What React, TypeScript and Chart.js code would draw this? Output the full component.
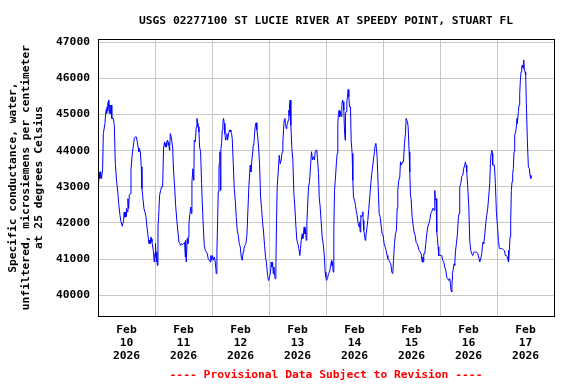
import React, { useEffect, useRef } from 'react';
import { Chart, registerables } from 'chart.js';

Chart.register(...registerables);

const TITLE = 'USGS 02277100 ST LUCIE RIVER AT SPEEDY POINT, STUART FL';
const Y_TITLE = [
  'Specific conductance, water,',
  'unfiltered, microsiemens per centimeter',
  'at 25 degrees Celsius',
];
const X_NOTE = '---- Provisional Data Subject to Revision ----';
const MONTH = 'Feb';
const YEAR = '2026';
const DAYS = ['10', '11', '12', '13', '14', '15', '16', '17'];
const Y_TICKS = [40000, 41000, 42000, 43000, 44000, 45000, 46000, 47000];

// hours since Feb 10 2026 00:00
const HOURS = [
  0.0, 0.2, 0.5, 0.8, 1.1, 1.5, 1.96, 2.24, 2.94, 3.23, 3.51, 3.65, 3.79, 4.0, 4.21, 4.35, 4.49, 4.63, 4.77, 4.91,
  5.05, 5.2, 5.47, 5.6, 5.75, 5.89, 6.45, 6.87, 7.29, 7.85, 8.41, 8.7, 9.26, 9.68, 10.24, 10.8, 11.0, 11.22, 11.5, 11.78,
  12.0, 12.34, 12.6, 12.9, 13.18, 13.6, 13.89, 14.31, 14.73, 15.29, 15.71, 16.13, 16.55, 16.97, 17.2, 17.39, 17.81, 18.23, 18.51, 18.93,
  19.35, 19.78, 20.2, 20.62, 21.04, 21.46, 21.7, 21.88, 22.3, 22.5, 22.72, 23.28, 23.7, 24.0, 24.12, 24.3, 24.54, 24.75, 24.96, 25.25,
  25.53, 25.95, 26.37, 26.79, 27.21, 27.63, 28.05, 28.3, 28.47, 28.7, 28.89, 29.31, 29.5, 29.73, 30.0, 30.15, 30.43, 30.85,
  31.0, 31.42, 31.84, 32.26, 32.68, 33.24, 33.66, 34.08, 34.5, 34.78, 35.2, 35.62, 36.04, 36.47, 36.75, 36.89, 37.17, 37.59, 37.87, 38.0,
  38.29, 38.71, 39.13, 39.3, 39.55, 39.97, 40.25, 40.4, 40.53, 40.95, 41.38, 41.66, 41.94, 42.1, 42.22, 42.5, 42.78, 43.2, 43.62, 43.9,
  44.32, 44.74, 45.16, 45.58, 46.0, 46.42, 46.84, 47.27, 47.5, 47.69, 48.11, 48.53, 48.95, 49.37, 49.79, 50.07, 50.35, 50.63, 50.91, 51.05,
  51.33, 51.61, 51.75, 52.04, 52.32, 52.6, 52.88, 53.16, 53.44, 53.72, 54.0, 54.28, 54.56, 54.98, 55.4, 55.68, 55.96, 56.24, 56.53, 56.95,
  57.37, 57.79, 58.21, 58.63, 59.05, 59.47, 59.89, 60.31, 60.73, 61.15,
  61.43, 61.85, 62.27, 62.7, 63.12, 63.54, 63.96, 64.1, 64.38, 64.8, 65.22, 65.36, 65.64, 66.06, 66.34, 66.62, 66.9, 67.18, 67.6, 68.02,
  68.45, 68.87, 69.29, 69.71, 70.13, 70.55, 70.97, 71.39, 71.81, 72.23, 72.65, 72.93, 73.21, 73.49, 73.78, 74.06, 74.34, 74.62, 74.9, 75.18,
  75.46, 75.88, 76.3, 76.72, 77.14, 77.56, 77.84, 78.12, 78.4, 78.68, 78.96, 79.25, 79.53, 79.81, 80.09, 80.37, 80.51, 80.65, 80.93, 81.21,
  81.63, 82.05, 82.47, 82.89, 83.31, 83.73, 84.15, 84.57, 84.99, 85.27, 85.56, 85.98, 86.26, 86.54, 86.82, 87.1, 87.38, 87.66, 87.94, 88.22,
  88.64, 89.06, 89.48, 89.9, 90.32, 90.74, 91.16, 91.45,
  91.72, 92.14, 92.42, 92.85, 93.13, 93.55, 93.97, 94.39, 94.81, 95.23, 95.65, 95.93, 96.21, 96.63, 97.05, 97.47, 97.89, 98.31, 98.45, 98.74,
  99.02, 99.3, 99.58, 100.0, 100.42, 100.7, 100.98, 101.26, 101.54, 101.68, 101.82, 102.1, 102.38, 102.66, 102.94, 103.22, 103.5, 103.78, 104.07, 104.2,
  104.49, 104.77, 105.05, 105.33, 105.61, 105.89, 106.31, 106.59, 107.01, 107.29, 107.57, 107.99, 108.41, 108.69, 109.11, 109.53, 109.95, 110.24, 110.38, 110.66,
  110.94, 111.22, 111.5, 111.64, 111.92, 112.34, 112.48, 112.76, 113.18, 113.6, 114.02, 114.44, 114.86, 115.28, 115.71, 116.13, 116.41, 116.69, 116.97, 117.25,
  117.53, 117.95, 118.37, 118.79, 119.21, 119.63, 120.05, 120.47, 120.89, 121.31, 121.73,
  122.02, 122.44, 122.86, 123.29, 123.71, 124.13, 124.41, 124.83, 125.25, 125.67, 125.95, 126.23, 126.65, 127.07, 127.35, 127.77, 128.19, 128.61, 129.04, 129.46,
  129.74, 130.02, 130.3, 130.58, 131.0, 131.28, 131.56, 131.84, 132.26, 132.68, 133.1, 133.52, 133.94, 134.37, 134.79, 135.21, 135.63, 136.05, 136.47, 136.75,
  136.89, 137.17, 137.59, 138.01, 138.43, 138.85, 139.27, 139.69, 140.12, 140.54, 140.96, 141.24, 141.52, 141.8, 142.08, 142.36, 142.64, 142.92, 143.2, 143.48,
  143.9, 144.32, 144.74, 145.16, 145.58, 146.01, 146.43, 146.85, 147.27, 147.69, 148.11, 148.39, 148.67, 148.95, 149.09, 149.23, 149.51, 149.93, 150.21, 150.49,
  150.91, 151.34, 151.76, 152.04,
  152.31, 152.73, 153.15, 153.58, 154.0, 154.42, 154.7, 154.98, 155.26, 155.68, 156.1, 156.52, 156.94, 157.36, 157.78, 158.2, 158.62, 159.04, 159.47, 159.89,
  160.31, 160.73, 161.15, 161.57, 161.85, 162.13, 162.41, 162.83, 163.25, 163.67, 164.09, 164.51, 164.94, 165.22, 165.5, 165.78, 166.06, 166.2, 166.48, 166.9,
  167.32, 167.74, 168.16, 168.58, 169.0, 169.42, 169.84, 170.27, 170.69, 171.11, 171.53, 171.95, 172.37, 172.65, 172.79, 172.93, 173.21, 173.49, 173.77, 174.05,
  174.33, 174.61, 174.89, 175.17, 175.45, 175.87, 176.16, 176.44, 176.58, 176.72, 177.0, 177.28, 177.56, 177.84, 178.12, 178.4, 178.68, 178.96, 179.24, 179.52,
  179.8, 180.08, 180.36, 180.78, 181.2, 181.63, 181.91, 182.19, 182.47, 182.75,
];

const VALUES = [
  41700, 43040, 43400, 43230, 43420, 43230, 43500, 44470, 44750, 45030, 45140, 45030, 45210, 45100, 45300, 45360, 45400, 45200, 45030, 45260,
  45260, 45030, 45260, 45030, 45260, 44890, 44890, 44700, 43640, 43140, 42810, 42540, 42210, 42030, 41910, 42070, 42300, 42160, 42300, 42170,
  42400, 42300, 42670, 42400, 42770, 42810, 43460, 43830, 44060, 44340, 44380, 44380, 44240, 44060, 43970, 44060, 43970, 43550, 42950, 42670,
  42400, 42300, 42170, 41890, 41660, 41430, 41520, 41430, 41610, 41560, 41470, 41240, 40920, 41150, 41060, 41430, 40920, 41200, 40830, 41890,
  42170, 42770, 42900, 43000, 43000, 44100, 44240, 44100, 44200, 44100, 44240, 44290, 44150, 44240, 44060, 44010, 44470, 44380,
  44380, 44100, 43410, 43000, 42490, 42030, 41750, 41470, 41430, 41380, 41430, 41400, 41430, 41470, 41060, 41520, 40920, 41570, 41430, 41610,
  41980, 42260, 42440, 42260, 43140, 43500, 43180, 43500, 44290, 44240, 44660, 44890, 44750, 44660, 44660, 44520, 44100, 43970, 43090, 42580,
  41930, 41380, 41240, 41200, 41150, 41010, 40970, 40920, 41100, 40970, 41100, 40970, 41060, 40920, 40600, 41200, 42030, 42860, 43460, 43640,
  43970, 42900, 44060, 44200, 44570, 44800, 44890, 44750, 44470, 44290, 44330, 44470, 44290, 44470, 44570, 44570, 44520, 44470, 44330, 43640,
  42950, 42630, 42170, 41800, 41660, 41430, 41340, 41060, 40970, 41200,
  41290, 41380, 41430, 41660, 42350, 43040, 43460, 43600, 43410, 43740, 44010, 44150, 44200, 44570, 44750, 44770, 44570, 44430, 44100, 43640,
  42720, 42400, 42030, 41750, 41380, 41060, 40870, 40550, 40410, 40500, 40640, 40920, 40780, 40920, 40600, 40780, 40550, 40460, 40830, 42070,
  43000, 43410, 43870, 43640, 43740, 43970, 44240, 44570, 44840, 44890, 44750, 44610, 44700, 44750, 44840, 45120, 44960, 45300, 45400, 44700,
  44060, 43740, 42810, 42440, 41930, 41520, 41430, 41290, 41100, 41290, 41520, 41700, 41570, 41750, 41890, 41700, 41840, 41520, 41980, 42400,
  43000, 43140, 43550, 43970, 43740, 43830, 43740, 43970,
  44010, 44010, 43780, 43370, 42720, 42440, 42030, 41610, 41430, 41150, 40640, 40500, 40410, 40460, 40600, 40640, 40780, 40960, 40830, 40920,
  40640, 41800, 42900, 43270, 43690, 43920, 44750, 45030, 45120, 44980, 44940, 45080, 44940, 45210, 45400, 45350, 45120, 44570, 44290, 45030,
  45080, 45350, 45490, 45690, 45490, 45210, 45210, 44290, 43920, 43180, 42720, 42630, 42490, 42350, 42210, 41980, 41890, 42030, 41750, 42210,
  42170, 42210, 42310, 42070, 41800, 41610, 41520, 41610, 41840, 42070, 42400, 42720, 43090, 43370, 43600, 43830, 43970, 44150, 44200, 44060,
  43830, 43040, 42260, 42170, 41930, 41700, 41660, 41430, 41340, 41240, 41100,
  41010, 40970, 40920, 40870, 40640, 40600, 40960, 41430, 41700, 41800, 42400, 42900, 43180, 43270, 43690, 43600, 43690, 43690, 44200, 44470,
  44890, 44890, 44800, 44660, 43970, 43410, 42770, 42670, 42170, 41930, 41750, 41660, 41470, 41430, 41340, 41240, 41200, 41150, 40920, 41060,
  40920, 41150, 41150, 41430, 41700, 41890, 41980, 42070, 42260, 42310, 42400, 42400, 42350, 42900, 42630, 42670, 41750, 41570, 41340, 41100,
  41100, 41100, 41100, 40960, 40920, 40780, 40690, 40500, 40460, 40410, 40460, 40320, 40130, 40090, 40410, 40600, 40690, 40870, 40830, 41200,
  41430, 41700, 42170, 42260,
  43000, 43090, 43280, 43320, 43510, 43600, 43690, 43600, 43410, 43000, 42490, 41520, 41240, 41150, 41100, 41190, 41200, 41190, 41190, 41150,
  41060, 40920, 41010, 41150, 41340, 41470, 41430, 41660, 41980, 42210, 42400, 42720, 43090, 43640, 43920, 44010, 43920, 43600, 43600, 43600,
  43090, 42310, 41940, 41520, 41290, 41290, 41290, 41290, 41260, 41240, 41100, 41100, 41060, 40970, 41240, 40920, 41240, 41610, 42070, 42900,
  43140, 43370, 43510, 43970, 44430, 44520, 44660, 44890, 44750, 44840, 45080, 45260, 45580, 45950, 46180, 46320, 46370, 46280, 46510, 46230,
  46180, 46090, 45310, 44290, 43550, 43500, 43320, 43230, 43290, 43290,
];

const FAMILY = '"DejaVu Sans Mono", "Liberation Mono", monospace';
const FONT_SIZE = 11.3;

const framePlugin = {
  id: 'frame',
  afterDraw(chart: any) {
    const { ctx, chartArea } = chart;
    const l = Math.floor(chartArea.left) + 0.5;
    const t = Math.floor(chartArea.top) + 0.5;
    const r = Math.floor(chartArea.right) + 0.5;
    const b = Math.floor(chartArea.bottom) + 0.5;
    ctx.save();
    ctx.strokeStyle = '#000000';
    ctx.lineWidth = 1;
    ctx.strokeRect(l, t, r - l, b - t);
    ctx.restore();
  },
};

export default function App() {
  const ref = useRef<HTMLCanvasElement>(null);

  useEffect(() => {
    const canvas = ref.current;
    if (!canvas) return;
    const points = HOURS.map((h, i) => ({ x: h, y: VALUES[i] }));
    const font = { family: FAMILY, size: FONT_SIZE, weight: 'bold' as const, lineHeight: 13 / FONT_SIZE };
    const chart = new Chart(canvas, {
      type: 'line',
      data: {
        datasets: [
          {
            data: points,
            borderColor: '#0000ff',
            borderWidth: 1,
            pointRadius: 0,
            tension: 0,
            fill: false,
          },
        ],
      },
      options: {
        animation: false,
        responsive: false,
        events: [],
        layout: { padding: { left: 0, right: 22, top: 0, bottom: 0 } },
        plugins: {
          legend: { display: false },
          tooltip: { enabled: false },
          title: {
            display: true,
            text: TITLE,
            fullSize: false,
            color: '#000000',
            font: { family: FAMILY, size: FONT_SIZE, weight: 'bold', lineHeight: 1.2 },
            padding: { top: 14.5, bottom: 11.2 },
          },
        },
        scales: {
          x: {
            type: 'linear',
            min: 0,
            max: 192,
            afterBuildTicks: (scale: any) => {
              const t = [];
              for (let v = 0; v <= 192; v += 12) t.push({ value: v });
              scale.ticks = t;
            },
            afterFit: (scale: any) => {
              scale.height = 68;
            },
            ticks: {
              autoSkip: false,
              maxRotation: 0,
              minRotation: 0,
              padding: 7.5,
              color: '#000000',
              font,
              callback: (v: any) => {
                const n = Number(v);
                if (n % 24 === 12) return [MONTH, DAYS[(n - 12) / 24], YEAR];
                return '';
              },
            },
            grid: {
              drawTicks: false,
              lineWidth: 1,
              color: (ctx: any) =>
                ctx.tick && ctx.tick.value % 24 === 0 ? '#c8c8c8' : 'rgba(0,0,0,0)',
            },
            border: { display: false },
            title: {
              display: true,
              text: X_NOTE,
              color: '#ff0000',
              font: { family: FAMILY, size: FONT_SIZE, weight: 'bold', lineHeight: 1.2 },
              padding: { top: 0, bottom: 2.2 },
            },
          },
          y: {
            type: 'linear',
            min: 39427,
            max: 47080,
            afterBuildTicks: (scale: any) => {
              scale.ticks = Y_TICKS.map((v) => ({ value: v }));
            },
            afterFit: (scale: any) => {
              scale.width = 98;
            },
            ticks: {
              padding: 8,
              color: '#000000',
              font,
              callback: (v: any) => String(v),
            },
            grid: { drawTicks: false, color: '#c8c8c8', lineWidth: 1 },
            border: { display: false },
            title: {
              display: true,
              text: Y_TITLE,
              color: '#000000',
              font,
              padding: { top: 6.2, bottom: 0 },
            },
          },
        },
      },
      plugins: [framePlugin],
    });
    return () => chart.destroy();
  }, []);

  return (
    <div style={{ position: 'fixed', left: 0, top: 0, width: 576, height: 384, background: '#ffffff' }}>
      <canvas ref={ref} width={576} height={384} style={{ display: 'block' }} />
    </div>
  );
}
